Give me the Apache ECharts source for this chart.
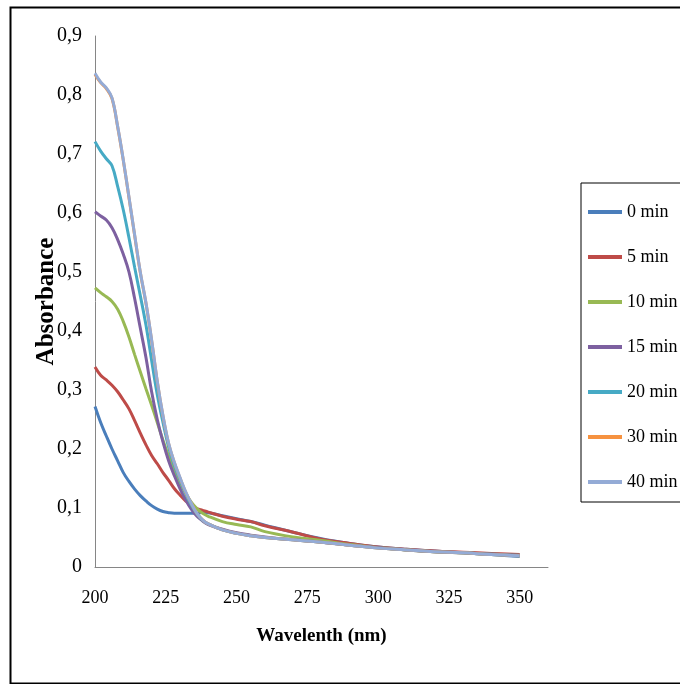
<!DOCTYPE html>
<html>
<head>
<meta charset="utf-8">
<script src="https://cdn.jsdelivr.net/npm/echarts@6/dist/echarts.min.js"></script>
<style>
html,body{margin:0;padding:0;background:#fff;}
#chart{width:680px;height:684px;}
</style>
</head>
<body>
<div id="chart"></div>
<script>
var wavelengths = [200,202,204,206,208,210,212,214,216,218,220,222,224,226,228,230,232,234,236,238,240,245,250,255,260,270,280,290,300,310,320,330,340,350];
var seriesNames = ['0 min','5 min','10 min','15 min','20 min','30 min','40 min'];
var min0  = [0.272,0.245,0.222,0.200,0.180,0.160,0.145,0.132,0.121,0.112,0.104,0.098,0.094,0.092,0.091,0.091,0.091,0.091,0.091,0.093,0.092,0.087,0.082,0.077,0.071,0.059,0.048,0.040,0.034,0.030,0.027,0.024,0.021,0.018];
var min5  = [0.339,0.325,0.317,0.308,0.297,0.283,0.268,0.248,0.227,0.207,0.189,0.175,0.160,0.147,0.133,0.122,0.112,0.104,0.099,0.096,0.093,0.086,0.081,0.077,0.070,0.059,0.047,0.040,0.034,0.030,0.027,0.025,0.023,0.021];
var min10 = [0.473,0.465,0.458,0.450,0.437,0.416,0.390,0.360,0.331,0.302,0.274,0.245,0.215,0.188,0.163,0.142,0.125,0.110,0.099,0.091,0.086,0.077,0.072,0.068,0.060,0.051,0.045,0.038,0.033,0.029,0.026,0.024,0.022,0.020];
var min15 = [0.602,0.595,0.588,0.575,0.555,0.530,0.500,0.455,0.405,0.355,0.297,0.250,0.212,0.180,0.155,0.133,0.114,0.098,0.086,0.078,0.072,0.064,0.058,0.054,0.051,0.046,0.042,0.037,0.033,0.029,0.026,0.024,0.022,0.020];
var min20 = [0.721,0.705,0.692,0.680,0.645,0.605,0.558,0.508,0.460,0.410,0.350,0.292,0.245,0.203,0.172,0.147,0.124,0.105,0.090,0.079,0.073,0.063,0.057,0.053,0.050,0.046,0.042,0.037,0.032,0.029,0.026,0.024,0.021,0.019];
var min30 = [0.835,0.821,0.811,0.794,0.746,0.689,0.626,0.562,0.499,0.447,0.384,0.314,0.256,0.209,0.177,0.151,0.127,0.108,0.091,0.080,0.073,0.063,0.057,0.053,0.050,0.046,0.042,0.037,0.032,0.029,0.026,0.024,0.021,0.019];
var min40 = [0.837,0.822,0.812,0.795,0.747,0.690,0.627,0.563,0.500,0.448,0.385,0.315,0.257,0.210,0.178,0.152,0.128,0.108,0.091,0.080,0.073,0.063,0.057,0.053,0.050,0.046,0.042,0.037,0.032,0.029,0.026,0.024,0.021,0.019];
var xTickLabels = ['200','225','250','275','300','325','350'];
var yTickLabels = ['0','0,1','0,2','0,3','0,4','0,5','0,6','0,7','0,8','0,9'];
var colors = ['#4A7EBB','#BE4B48','#98B954','#7D60A0','#46AAC5','#F69240','#94ABD6'];
var allValues = [min0,min5,min10,min15,min20,min30,min40];

function pairs(vals){ return wavelengths.map(function(w,i){ return [w, vals[i]]; }); }

var chart = echarts.init(document.getElementById('chart'), null, {renderer:'canvas'});
var serif = '"Liberation Serif","Times New Roman",serif';
chart.setOption({
  animation:false,
  backgroundColor:'#fff',
  color: colors,
  graphic:[{type:'rect', left:8, top:5, shape:{width:700, height:676}, style:{fill:'none', stroke:'#000', lineWidth:2}, silent:true}],
  grid:{left:95, top:36, right:132, bottom:117, containLabel:false},
  legend:{
    orient:'vertical', left:581, top:183,
    padding:[20,40,11,7], itemGap:27, itemWidth:34, itemHeight:4,
    borderColor:'#000', borderWidth:1,
    data: seriesNames,
    icon:'rect',
    textStyle:{fontFamily:serif, fontSize:18, color:'#000'},
    itemStyle:{borderWidth:0}
  },
  xAxis:{
    type:'value', min:200, max:360, interval:25,
    name:'Wavelenth (nm)', nameLocation:'middle', nameGap:60, nameMoveOverlap:false,
    nameTextStyle:{fontFamily:serif, fontSize:19, fontWeight:'bold', color:'#000'},
    axisLine:{show:true, lineStyle:{color:'#868686', width:1}},
    axisTick:{show:false},
    splitLine:{show:false},
    axisLabel:{fontFamily:serif, fontSize:18, color:'#000', margin:22,
      formatter:function(v){ var i=(v-200)/25; return (Number.isInteger(i) && i < xTickLabels.length) ? xTickLabels[i] : ''; }}
  },
  yAxis:{
    type:'value', min:0, max:0.9, interval:0.1,
    name:'Absorbance', nameLocation:'middle', nameGap:36, nameRotate:90, nameMoveOverlap:false,
    nameTextStyle:{fontFamily:serif, fontSize:25, fontWeight:'bold', color:'#000'},
    axisLine:{show:true, lineStyle:{color:'#868686', width:1}},
    axisTick:{show:false},
    splitLine:{show:false},
    axisLabel:{fontFamily:serif, fontSize:20, color:'#000', margin:13,
      formatter:function(v){ var i=Math.round(v*10); return yTickLabels[i] || ''; }}
  },
  series: seriesNames.map(function(n,k){
    return {name:n, type:'line', data:pairs(allValues[k]), smooth:0.4, showSymbol:false, symbol:'none',
      lineStyle:{width:3, color:colors[k]}, itemStyle:{color:colors[k]}};
  })
});
</script>
</body>
</html>
